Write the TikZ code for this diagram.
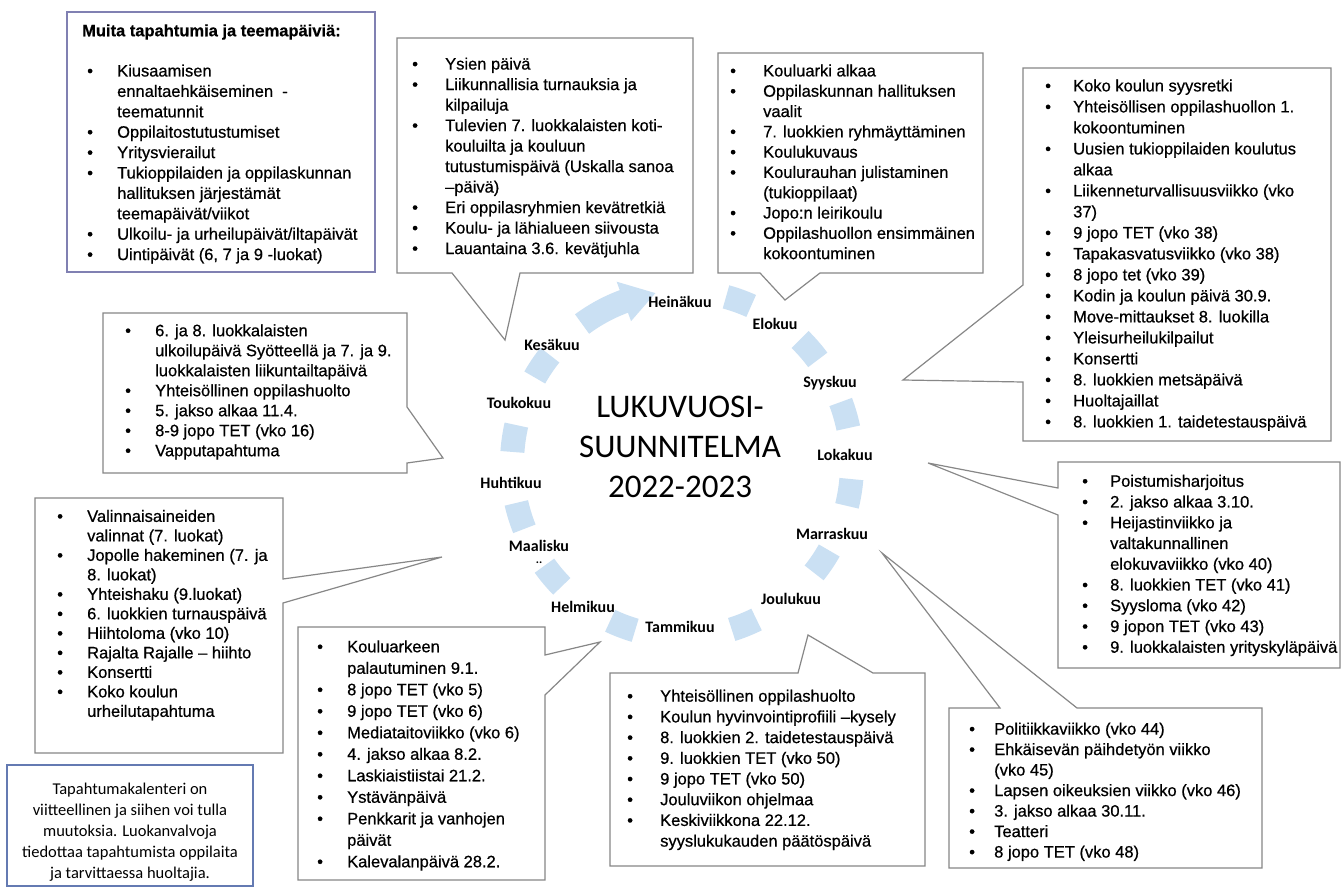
\documentclass[tikz,border=0pt]{standalone}
\usepackage{fontspec}
\setmainfont[FakeBold=0.6]{Liberation Sans}
\newfontfamily\calfont{Carlito}
\definecolor{ringc}{RGB}{202,224,243}
\definecolor{cline}{RGB}{135,135,135}
\definecolor{abox}{RGB}{128,128,178}
\definecolor{nbox}{RGB}{100,122,178}
\newcommand{\lst}[3]{{\fontsize{16.5}{#1}\selectfont\addfontfeature{FakeBold=0.6}\begin{tabular}{@{}p{#2}@{}l@{}}#3\end{tabular}}}
\begin{document}
\begin{tikzpicture}[x=1pt,y=-1pt,
  callout/.style={draw=cline,line width=1.2pt,fill=white,line join=miter},
  mon/.style={font=\calfont\bfseries\fontsize{16}{18}\selectfont,inner sep=1pt},
  txt/.style={anchor=north west,inner sep=0pt}]
\useasboundingbox (0,0) rectangle (1344,888);
\fill[white] (0,0) rectangle (1344,888);
% ring pieces
\begin{scope}[shift={(682,464)}]
\foreach \a/\b in {285/294,314/323,339/348,5/14,30/39,64/73,106/115,135/144,158/167,184/193,210/219}
  \draw[ringc,line width=24pt] (\a:170 and 173) arc[start angle=\a,end angle=\b,x radius=170,y radius=173];
\draw[ringc,line width=24pt] (234:170 and 173) arc[start angle=234,end angle=251,x radius=170,y radius=173];
\fill[ringc] (250:149 and 152) -- (250:191 and 194) -- (261:170 and 173) -- cycle;
\end{scope}
% box A
\draw[draw=abox,line width=2.5pt,fill=white] (67,12) rectangle (375,272);
\node[anchor=west,inner sep=0pt,font=\bfseries\fontsize{16.5}{20}\selectfont] (atitle) at (82,32) {Muita tapahtumia ja teemapäiviä:};
\node[txt] (alist) at (87,62) {\lst{20.4}{30pt}{%
• & Kiusaamisen\\
 & ennaltaehkäiseminen \ -\\
 & teematunnit\\
• & Oppilaitostutustumiset\\
• & Yritysvierailut\\
• & Tukioppilaiden ja oppilaskunnan\\
 & hallituksen järjestämät\\
 & teemapäivät/viikot\\
• & Ulkoilu- ja urheilupäivät/iltapäivät\\
• & Uintipäivät (6, 7 ja 9 -luokat)}};
% box B (Kesakuu)
\draw[callout] (397,38) -- (693,38) -- (693,273) -- (520,273) -- (505,340) -- (452,273) -- (397,273) -- cycle;
\node[txt] (blist) at (412,55) {\lst{20.5}{33pt}{%
• & Ysien päivä\\
• & Liikunnallisia turnauksia ja\\
 & kilpailuja\\
• & Tulevien 7. luokkalaisten koti-\\
 & kouluilta ja kouluun\\
 & tutustumispäivä (Uskalla sanoa\\
 & –päivä)\\
• & Eri oppilasryhmien kevätretkiä\\
• & Koulu- ja lähialueen siivousta\\
• & Lauantaina 3.6. kevätjuhla}};
% box C (Elokuu)
\draw[callout] (718,53) -- (983,53) -- (983,273) -- (820,273) -- (785,300) -- (760,273) -- (718,273) -- cycle;
\node[txt] (clist) at (730,62) {\lst{20.3}{33pt}{%
• & Kouluarki alkaa\\
• & Oppilaskunnan hallituksen\\
 & vaalit\\
• & 7. luokkien ryhmäyttäminen\\
• & Koulukuvaus\\
• & Koulurauhan julistaminen\\
 & (tukioppilaat)\\
• & Jopo:n leirikoulu\\
• & Oppilashuollon ensimmäinen\\
 & kokoontuminen}};
% box D (Syyskuu)
\draw[callout] (1023,68) -- (1331,68) -- (1331,441) -- (1023,441) -- (1023,382) -- (903,380) -- (1023,285) -- cycle;
\node[txt] (dlist) at (1045,76.5) {\lst{21}{28pt}{%
• & Koko koulun syysretki\\
• & Yhteisöllisen oppilashuollon 1.\\
 & kokoontuminen\\
• & Uusien tukioppilaiden koulutus\\
 & alkaa\\
• & Liikenneturvallisuusviikko (vko\\
 & 37)\\
• & 9 jopo TET (vko 38)\\
• & Tapakasvatusviikko (vko 38)\\
• & 8 jopo tet (vko 39)\\
• & Kodin ja koulun päivä 30.9.\\
• & Move-mittaukset 8. luokilla\\
• & Yleisurheilukilpailut\\
• & Konsertti\\
• & 8. luokkien metsäpäivä\\
• & Huoltajaillat\\
• & 8. luokkien 1. taidetestauspäivä}};
% box E (Lokakuu)
\draw[callout] (1058,462) -- (1340,462) -- (1340,668) -- (1058,668) -- (1058,515) -- (928,463) -- (1058,488) -- cycle;
\node[txt] (elist) at (1082,472) {\lst{20.75}{28pt}{%
• & Poistumisharjoitus\\
• & 2. jakso alkaa 3.10.\\
• & Heijastinviikko ja\\
 & valtakunnallinen\\
 & elokuvaviikko (vko 40)\\
• & 8. luokkien TET (vko 41)\\
• & Syysloma (vko 42)\\
• & 9 jopon TET (vko 43)\\
• & 9. luokkalaisten yrityskyläpäivä}};
% box F (Marraskuu)
\draw[callout] (949,708) -- (1000,708) -- (882,553) -- (1077,708) -- (1262,708) -- (1262,868) -- (949,868) -- cycle;
\node[txt] (flist) at (969,720) {\lst{20.5}{25pt}{%
• & Politiikkaviikko (vko 44)\\
• & Ehkäisevän päihdetyön viikko\\
 & (vko 45)\\
• & Lapsen oikeuksien viikko (vko 46)\\
• & 3. jakso alkaa 30.11.\\
• & Teatteri\\
• & 8 jopo TET (vko 48)}};
% box K (Joulukuu)
\draw[callout] (610,673) -- (798,673) -- (808,635) -- (873,673) -- (925,673) -- (925,866) -- (610,866) -- cycle;
\node[txt] (klist) at (627,687) {\lst{20.7}{33pt}{%
• & Yhteisöllinen oppilashuolto\\
• & Koulun hyvinvointiprofiili –kysely\\
• & 8. luokkien 2. taidetestauspäivä\\
• & 9. luokkien TET (vko 50)\\
• & 9 jopo TET (vko 50)\\
• & Jouluviikon ohjelmaa\\
• & Keskiviikkona 22.12.\\
 & syyslukukauden päätöspäivä}};
% box J (Helmikuu)
\draw[callout] (298,627) -- (545,627) -- (545,655) -- (600,642) -- (545,695) -- (545,880) -- (298,880) -- cycle;
\node[txt] (jlist) at (317,637) {\lst{21.5}{30pt}{%
• & Kouluarkeen\\
 & palautuminen 9.1.\\
• & 8 jopo TET (vko 5)\\
• & 9 jopo TET (vko 6)\\
• & Mediataitoviikko (vko 6)\\
• & 4. jakso alkaa 8.2.\\
• & Laskiaistiistai 21.2.\\
• & Ystävänpäivä\\
• & Penkkarit ja vanhojen\\
 & päivät\\
• & Kalevalanpäivä 28.2.}};
% box H (Maalisku)
\draw[callout] (35,498) -- (283,498) -- (283,579) -- (442,557) -- (283,603) -- (283,753) -- (35,753) -- cycle;
\node[txt] (hlist) at (57,508) {\lst{19.5}{30pt}{%
• & Valinnaisaineiden\\
 & valinnat (7. luokat)\\
• & Jopolle hakeminen (7. ja\\
 & 8. luokat)\\
• & Yhteishaku (9.luokat)\\
• & 6. luokkien turnauspäivä\\
• & Hiihtoloma (vko 10)\\
• & Rajalta Rajalle – hiihto\\
• & Konsertti\\
• & Koko koulun\\
 & urheilutapahtuma}};
% box G (Toukokuu)
\draw[callout] (103,313) -- (407,313) -- (407,407) -- (443,458) -- (407,463) -- (407,473) -- (103,473) -- cycle;
\node[txt] (glist) at (125,322) {\lst{20}{30pt}{%
• & 6. ja 8. luokkalaisten\\
 & ulkoilupäivä Syötteellä ja 7. ja 9.\\
 & luokkalaisten liikuntailtapäivä\\
• & Yhteisöllinen oppilashuolto\\
• & 5. jakso alkaa 11.4.\\
• & 8-9 jopo TET (vko 16)\\
• & Vapputapahtuma}};
% note box
\draw[draw=nbox,line width=2.5pt,fill=white] (7,765) rectangle (253,886);
\node[align=center,inner sep=0pt,font=\calfont\fontsize{16.5}{21}\selectfont] (note) at (130,832) {Tapahtumakalenteri on\\viitteellinen ja siihen voi tulla\\muutoksia. Luokanvalvoja\\tiedottaa tapahtumista oppilaita\\ja tarvittaessa huoltajia.};
% months
\node[mon] (jul) at (680,302) {Heinäkuu};
\node[mon] (aug) at (775,324) {Elokuu};
\node[mon] (jun) at (552,345) {Kesäkuu};
\node[mon] (sep) at (830,383) {Syyskuu};
\node[mon] (may) at (519,403) {Toukokuu};
\node[mon] (oct) at (845,455) {Lokakuu};
\node[mon] (apr) at (511,483) {Huhtikuu};
\node[mon] (nov) at (832,534) {Marraskuu};
\node[mon,align=center,anchor=north] (mar) at (539,539) {Maalisku\\[-6pt]{\fontsize{12}{12}\selectfont ..}};
\node[mon] (feb) at (583,607) {Helmikuu};
\node[mon] (dec) at (791,599) {Joulukuu};
\node[mon] (jan) at (680,627) {Tammikuu};
% title
\node[align=center,inner sep=0pt,font=\calfont\fontsize{33}{40}\selectfont] (title) at (680,447) {LUKUVUOSI-\\SUUNNITELMA\\2022-2023};
\end{tikzpicture}
\end{document}
